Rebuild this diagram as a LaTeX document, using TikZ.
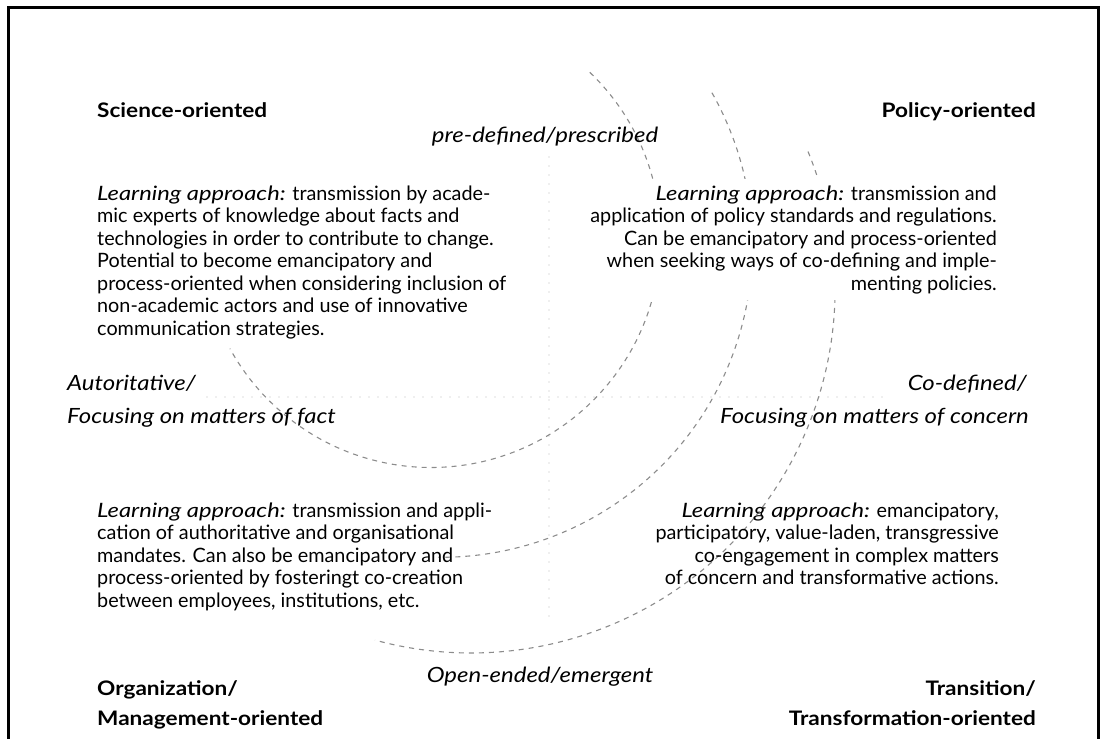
\documentclass[tikz,border=0pt]{standalone}
\usepackage{fontspec}
\setmainfont{Lato}
\newfontfamily\headfont{Lato}[FakeStretch=1.13]
\newfontfamily\polefont{Lato}[FakeStretch=1.14]
\newfontfamily\lafont{Lato}[FakeStretch=1.2]
\newcommand{\lapp}{{\lafont\itshape Learning approach:}}
\begin{document}
\begin{tikzpicture}[x=1bp,y=1bp,
  arcdash/.style={draw=black!45, line width=1.1bp, dash pattern=on 5bp off 5bp},
  axisdot/.style={draw=black!28, line width=1.3bp, line cap=round, dash pattern=on 0bp off 9bp},
  frameline/.style={draw=black, line width=3bp},
  head/.style={inner sep=0pt, font=\headfont\fontsize{20bp}{30bp}\selectfont\bfseries},
  pole/.style={inner sep=0pt, font=\polefont\fontsize{21bp}{24bp}\selectfont\itshape},
  body/.style={inner sep=0pt, font=\fontsize{19.8bp}{22.5bp}\selectfont},
  cover/.style={fill=white, inner sep=6bp}]
\useasboundingbox (0,0) rectangle (1101,-739);
\draw[frameline] (8,-739) -- (8,-7.5) -- (1098,-7.5) -- (1098,-739);
% axes
\coordinate (hl) at (207,-397); \coordinate (hr) at (885,-397);
\coordinate (vt) at (549,-157); \coordinate (vb) at (549,-617);
\draw[axisdot] (hl) -- (hr);
\draw[axisdot] (vt) -- (vb);
% arcs
\coordinate (c1) at (431,-238);
\coordinate (c2) at (441,-246);
\coordinate (c3) at (471,-289);
\draw[arcdash] (c1) ++(46.2:229.5) arc[start angle=46.2, end angle=-151.2, radius=229.5];
\draw[arcdash] (c2) ++(29.5:311.3) arc[start angle=29.5, end angle=-90.5, radius=311.3];
\draw[arcdash] (c3) ++(22.2:364) arc[start angle=22.2, end angle=-105.3, radius=364];
% corner headings
\node[head, anchor=base west] (sci) at (97,-117) {Science-oriented};
\node[head, anchor=base east] (pol) at (1036,-117) {Policy-oriented};
\node[head, anchor=base west, align=left] (org) at (97,-725) {Organization/\\Management-oriented};
\node[head, anchor=base east, align=right] (tra) at (1036,-725) {Transition/\\Transformation-oriented};
% poles
\node[pole, anchor=base] (pre) at (545,-142) {pre-defined/prescribed};
\node[pole, anchor=base] (open) at (540,-682) {Open-ended/emergent};
\node[pole, anchor=base west] (aut) at (67,-390) {Autoritative/};
\node[pole, anchor=base west] (fact) at (67,-423) {Focusing on matters of fact};
\node[pole, anchor=base east] (cod) at (1027,-390) {Co-defined/};
\node[pole, anchor=base east] (conc) at (1029,-423) {Focusing on matters of concern};
% learning approaches
\node[body, cover, anchor=base west, align=left] (tl) at (91,-335) {\lapp{} transmission by acade-\\mic experts of knowledge about facts and\\technologies in order to contribute to change.\\Potential to become emancipatory and\\process-oriented when considering inclusion of\\non-academic actors and use of innovative\\communication strategies.};
\node[body, cover, anchor=base east, align=right] (tr) at (1003,-290) {\lapp{} transmission and\\application of policy standards and regulations.\\Can be emancipatory and process-oriented\\when seeking ways of co-defining and imple-\\menting policies.};
\node[body, anchor=base west, align=left] (bl) at (97,-607) {\lapp{} transmission and appli-\\cation of authoritative and organisational\\mandates. Can also be emancipatory and\\process-oriented by fosteringt co-creation\\between employees, institutions, etc.};
\node[body, anchor=base east, align=right] (br) at (999,-584.5) {\lapp{} emancipatory,\\participatory, value-laden, transgressive\\co-engagement in complex matters\\of concern and transformative actions.};
\end{tikzpicture}
\end{document}
